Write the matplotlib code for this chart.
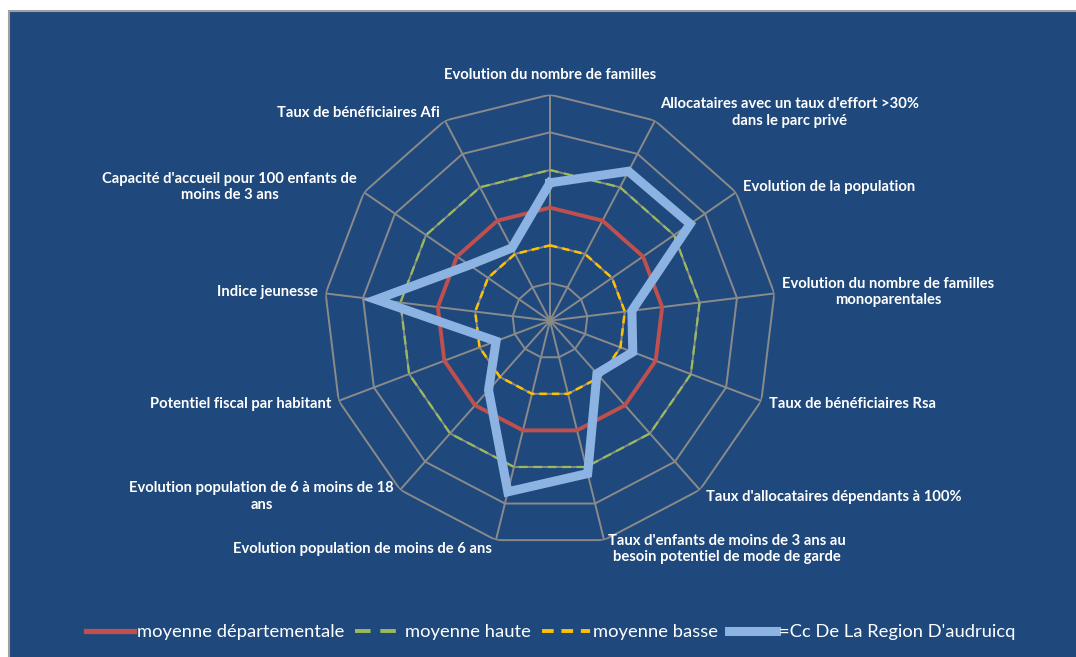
import numpy as np
import matplotlib.pyplot as plt
from matplotlib.patches import Rectangle

# axis labels, clockwise from the top
labels = [
    "Evolution du nombre de familles",
    "Allocataires avec un taux d'effort >30%\ndans le parc privé",
    "Evolution de la population",
    "Evolution du nombre de familles\nmonoparentales",
    "Taux de bénéficiaires Rsa",
    "Taux d'allocataires dépendants à 100%",
    "Taux d'enfants de moins de 3 ans au\nbesoin potentiel de mode de garde",
    "Evolution population de moins de 6 ans",
    "Evolution population de 6 à moins de 18\nans",
    "Potentiel fiscal par habitant",
    "Indice jeunesse",
    "Capacité d'accueil pour 100 enfants de\nmoins de 3 ans",
    "Taux de bénéficiaires Afi",
]

# series values
moy_dep = [3] * 13
moy_haute = [4] * 13
moy_basse = [2] * 13
cc_audruicq = [3.66, 4.48, 4.52, 2.19, 2.35, 1.88, 4.18, 4.68, 2.46, 1.53, 4.65, 2.6, 2.18]

series_names = ["moyenne départementale", "moyenne haute", "moyenne basse",
                "=Cc De La Region D'audruicq"]

bg = '#1F497D'
grid_col = '#8A8A8A'

n = len(labels)
theta = np.linspace(0, 2 * np.pi, n, endpoint=False)
theta_c = np.append(theta, theta[0])


def close(v):
    return np.append(v, v[0])


fig = plt.figure(figsize=(10.76, 6.57), dpi=100)
fig.patch.set_facecolor('white')
fig.patches.append(Rectangle((9 / 1076, -0.1), 1.2, 1 - 11 / 657 + 0.1,
                             transform=fig.transFigure, facecolor=bg,
                             edgecolor='#A0A0A0', linewidth=1.5, zorder=-10))

ax = fig.add_axes([0.3011, 0.1679, 0.4201, 0.688], projection='polar')
ax.set_theta_offset(np.pi / 2)
ax.set_theta_direction(-1)
ax.set_ylim(0, 6)
ax.patch.set_alpha(0)
ax.spines['polar'].set_visible(False)
ax.grid(False)
ax.set_xticks([])
ax.set_yticks([])

# polygon grid
for r in range(1, 7):
    ax.plot(theta_c, [r] * (n + 1), color=grid_col, lw=1.4, zorder=1)
for t in theta:
    ax.plot([t, t], [0, 6], color=grid_col, lw=1.4, zorder=1)

l1, = ax.plot(theta_c, close(moy_dep), color='#C0504D', lw=2.8, zorder=3)
l2, = ax.plot(theta_c, close(moy_haute), color='#9BBB59', lw=1.6, ls=(0, (4, 2.5)), zorder=3)
l3, = ax.plot(theta_c, close(moy_basse), color='#FFC000', lw=1.8, ls=(0, (3, 2)), zorder=3)
l4, = ax.plot(theta_c, close(cc_audruicq), color='#8DB3E2', lw=6.5, zorder=4,
              solid_joinstyle='miter')

# axis labels
for t, lab in zip(theta, labels):
    a = np.pi / 2 - t  # math angle
    c, s = np.cos(a), np.sin(a)
    if abs(c) < 0.05:
        ha, va = 'center', 'bottom'
        dx, dy = 0, 13
    else:
        ha = 'left' if c > 0 else 'right'
        va = 'center'
        dx = np.sign(c) * (3 + 5 * abs(c))
        dy = 9 * s
    ax.annotate(lab, xy=(t, 6), xytext=(dx, dy), textcoords='offset pixels',
                ha=ha, va=va, multialignment='center', color='white',
                fontsize=10.6, fontweight='bold', family=['Lato', 'DejaVu Sans'],
                annotation_clip=False)

leg = fig.legend([l1, l2, l3, l4], series_names, loc='center', bbox_to_anchor=(0.512, 0.038),
                 ncol=4, frameon=False, labelcolor='white', handlelength=2.6,
                 handletextpad=0.15, columnspacing=0.6,
                 prop={'family': ['Lato', 'DejaVu Sans'], 'size': 13.2})
for h, w in zip(leg.get_lines(), [3.8, 2.8, 2.8, 6.5]):
    h.set_linewidth(w)

fig.savefig('out.png', dpi=100, facecolor=fig.get_facecolor())
